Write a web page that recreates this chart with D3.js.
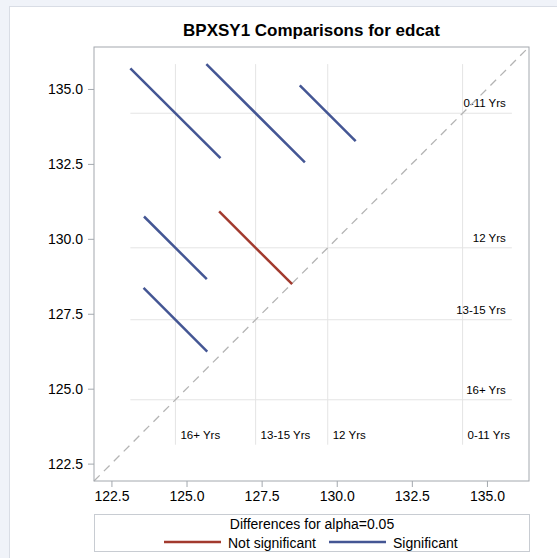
<!DOCTYPE html>
<html>
<head>
<meta charset="utf-8">
<script src="https://cdn.jsdelivr.net/npm/d3@7"></script>
<style>
    body { margin: 0; background: #f0f3f9; }
    text { font-family: Arial, "Liberation Sans", sans-serif; }
</style>
</head>
<body>
<script>
// Group means (LS-means) for edcat
const groups = ["0-11 Yrs", "12 Yrs", "13-15 Yrs", "16+ Yrs"];
const means = [134.19, 129.70, 127.30, 124.63];

// Pairwise comparisons: x group, y group, CI width of the difference, significant?
const pairX = ["16+ Yrs", "13-15 Yrs", "12 Yrs", "16+ Yrs", "13-15 Yrs", "16+ Yrs"];
const pairY = ["0-11 Yrs", "0-11 Yrs", "0-11 Yrs", "12 Yrs", "12 Yrs", "13-15 Yrs"];
const pairCI = [3.00, 3.28, 1.86, 2.09, 2.43, 2.12];
const pairSig = [true, true, true, true, false, true];

const axisDomain = [121.92, 136.40];
const tickValues = [122.5, 125.0, 127.5, 130.0, 132.5, 135.0];

const W = 557, H = 558;
const margin = {top: 47, right: 28, bottom: 77, left: 94};
const width = 529 - margin.left;
const height = 481 - margin.top;

const colors = {sig: "#445694", nonsig: "#A23A2E"};

const svg = d3.select("body").append("svg")
    .attr("width", W)
    .attr("height", H);

// outer panel
svg.append("rect")
    .attr("x", 9.5).attr("y", 6.5)
    .attr("width", W).attr("height", H)
    .attr("fill", "#fff")
    .attr("stroke", "#d9dde5");

svg.append("text")
    .attr("x", margin.left + width / 2)
    .attr("y", 36)
    .attr("text-anchor", "middle")
    .style("font-size", "17px")
    .style("font-weight", "bold")
    .attr("fill", "#000")
    .text("BPXSY1 Comparisons for edcat");

const g = svg.append("g")
    .attr("transform", "translate(" + margin.left + "," + margin.top + ")");

const x = d3.scaleLinear().domain(axisDomain).range([0, width]);
const y = d3.scaleLinear().domain(axisDomain).range([height, 0]);

const meanOf = name => means[groups.indexOf(name)];

// segment endpoints
const segs = pairX.map(function (gx, i) {
    const mx = meanOf(gx), my = meanOf(pairY[i]), h = pairCI[i] / 2;
    return {x1: mx - h, y1: my + h, x2: mx + h, y2: my - h, sig: pairSig[i]};
});

const allVals = segs.flatMap(d => [d.x1, d.x2, d.y1, d.y2]);
const lo = d3.min(allVals), hi = d3.max(allVals);

// reference lines for each group
g.selectAll("line.vref")
    .data(means)
    .join("line")
    .attr("class", "vref")
    .attr("x1", d => x(d)).attr("x2", d => x(d))
    .attr("y1", y(hi)).attr("y2", y(lo))
    .attr("stroke", "#e4e4e4")
    .attr("stroke-width", 1);

g.selectAll("line.href")
    .data(means)
    .join("line")
    .attr("class", "href")
    .attr("y1", d => y(d)).attr("y2", d => y(d))
    .attr("x1", x(lo)).attr("x2", x(hi))
    .attr("stroke", "#e4e4e4")
    .attr("stroke-width", 1);

// group labels
g.selectAll("text.rlab")
    .data(groups)
    .join("text")
    .attr("class", "rlab")
    .attr("x", x(hi) - 6)
    .attr("y", (d, i) => y(means[i]) - 6)
    .attr("text-anchor", "end")
    .style("font-size", "11.5px")
    .attr("fill", "#000")
    .text(d => d);

g.selectAll("text.blab")
    .data(groups)
    .join("text")
    .attr("class", "blab")
    .attr("x", (d, i) => x(means[i]) + 5)
    .attr("y", y(lo) - 6)
    .style("font-size", "11.5px")
    .attr("fill", "#000")
    .text(d => d);

// diagonal
g.append("line")
    .attr("x1", x(axisDomain[0])).attr("y1", y(axisDomain[0]))
    .attr("x2", x(axisDomain[1])).attr("y2", y(axisDomain[1]))
    .attr("stroke", "#b4b4b4")
    .attr("stroke-width", 1.3)
    .attr("stroke-dasharray", "8,6");

// comparison segments
g.selectAll("line.seg")
    .data(segs)
    .join("line")
    .attr("class", "seg")
    .attr("x1", d => x(d.x1)).attr("y1", d => y(d.y1))
    .attr("x2", d => x(d.x2)).attr("y2", d => y(d.y2))
    .attr("stroke", d => d.sig ? colors.sig : colors.nonsig)
    .attr("stroke-width", 2.5);

// frame
g.append("rect")
    .attr("x", 0).attr("y", 0)
    .attr("width", width).attr("height", height)
    .attr("fill", "none")
    .attr("stroke", "#a3a8ae");

// axes
const xAxis = g.append("g")
    .attr("transform", "translate(0," + height + ")")
    .call(d3.axisBottom(x).tickValues(tickValues).tickFormat(d3.format(".1f")).tickSize(6).tickPadding(4));
const yAxis = g.append("g")
    .call(d3.axisLeft(y).tickValues(tickValues).tickFormat(d3.format(".1f")).tickSize(6).tickPadding(5));

[xAxis, yAxis].forEach(function (a) {
    a.select(".domain").remove();
    a.selectAll(".tick line").attr("stroke", "#a3a8ae");
    a.selectAll(".tick text")
        .attr("fill", "#000")
        .style("font-size", "14px")
        .style("font-family", "Arial, 'Liberation Sans', sans-serif");
});

// legend
const leg = svg.append("g");
leg.append("rect")
    .attr("x", 94.5).attr("y", 514.5)
    .attr("width", 435).attr("height", 37)
    .attr("fill", "#fff")
    .attr("stroke", "#c8ccd2");

leg.append("text")
    .attr("x", 312)
    .attr("y", 529)
    .attr("text-anchor", "middle")
    .style("font-size", "14px")
    .attr("fill", "#000")
    .text("Differences for alpha=0.05");

const legItems = [
    {label: "Not significant", color: colors.nonsig, x: 164},
    {label: "Significant", color: colors.sig, x: 329}
];
legItems.forEach(function (it) {
    leg.append("line")
        .attr("x1", it.x).attr("x2", it.x + 57)
        .attr("y1", 542).attr("y2", 542)
        .attr("stroke", it.color)
        .attr("stroke-width", 2.5);
    leg.append("text")
        .attr("x", it.x + 64)
        .attr("y", 548)
        .style("font-size", "14px")
        .attr("fill", "#000")
        .text(it.label);
});
</script>
</body>
</html>
